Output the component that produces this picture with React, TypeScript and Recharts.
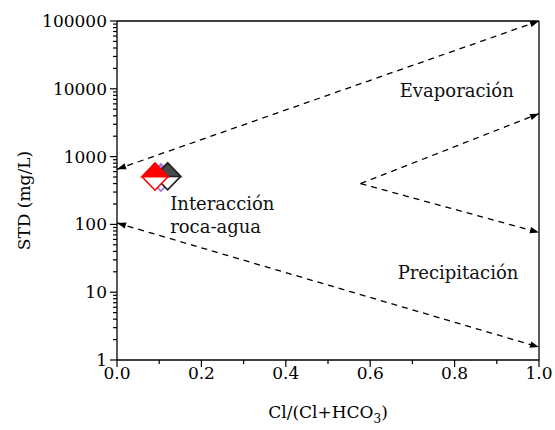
import React from 'react';
import {
  ScatterChart,
  Scatter,
  XAxis,
  YAxis,
  ReferenceLine,
  ReferenceDot,
  Label,
} from 'recharts';

const FONT = '"DejaVu Serif", serif';

// Samples: chloride ratio vs total dissolved solids
const violetSample = [{ ratio: 0.104, tds: 490 }];
const graySample = [{ ratio: 0.12, tds: 510 }];
const redSample = [{ ratio: 0.09, tds: 505 }];

// Gibbs boundary arrows (start -> end)
const upperBoundary = [{ ratio: 0, tds: 650 }, { ratio: 1, tds: 100000 }];
const lowerBoundary = [{ ratio: 0, tds: 105 }, { ratio: 1, tds: 1.55 }];
const wedgeUpper = [{ ratio: 0.577, tds: 400 }, { ratio: 1, tds: 4300 }];
const wedgeLower = [{ ratio: 0.577, tds: 400 }, { ratio: 1, tds: 76 }];

const xMajorTicks = [0, 0.2, 0.4, 0.6, 0.8, 1.0];
const xMinorTicks = [0.1, 0.3, 0.5, 0.7, 0.9];
const yDecades = [1, 10, 100, 1000, 10000, 100000];
const yMinorTicks = yDecades.slice(0, -1).flatMap((d) => [2, 3, 4, 5, 6, 7, 8, 9].map((m) => m * d));

const fieldLabels = [
  { ratio: 0.67, tds: 7600, lines: ['Evaporación'] },
  { ratio: 0.126, tds: 163, lines: ['Interacción', 'roca-agua'] },
  { ratio: 0.665, tds: 15.7, lines: ['Precipitación'] },
];

const arrowPoints = (tx: number, ty: number, fx: number, fy: number) => {
  const a = Math.atan2(ty - fy, tx - fx);
  const len = 9;
  const half = 3.2;
  const bx = tx - len * Math.cos(a);
  const by = ty - len * Math.sin(a);
  const px = -Math.sin(a) * half;
  const py = Math.cos(a) * half;
  return `${tx},${ty} ${bx + px},${by + py} ${bx - px},${by - py}`;
};

const arrowLine = (bothEnds: boolean) => (p: any) => {
  const { x1, y1, x2, y2 } = p;
  return (
    <g>
      <line x1={x1} y1={y1} x2={x2} y2={y2} stroke="#000" strokeWidth={1.3} strokeDasharray="6 5" />
      <polygon points={arrowPoints(x2, y2, x1, y1)} fill="#000" />
      {bothEnds && <polygon points={arrowPoints(x1, y1, x2, y2)} fill="#000" />}
    </g>
  );
};

const halfDiamond = (top: string, edge: string) => (p: any) => {
  const { cx, cy } = p;
  const w = 13;
  const h = 13.5;
  return (
    <g>
      <polygon
        points={`${cx - w},${cy} ${cx},${cy - h} ${cx + w},${cy} ${cx},${cy + h}`}
        fill="#fff"
        stroke={edge}
        strokeWidth={1.6}
      />
      <polygon points={`${cx - w},${cy} ${cx},${cy - h} ${cx + w},${cy}`} fill={top} stroke={edge} strokeWidth={1.6} />
    </g>
  );
};

const YTick = ({ x, y, payload }: any) => {
  const major = yDecades.includes(payload.value);
  return (
    <g>
      <line x1={x} x2={x - (major ? 7 : 4)} y1={y} y2={y} stroke="#000" strokeWidth={1.2} />
      {major && (
        <text x={x - 10} y={y} textAnchor="end" dominantBaseline="central" fontFamily={FONT} fontSize={17} fill="#000">
          {payload.value}
        </text>
      )}
    </g>
  );
};

const XTick = ({ x, y, payload }: any) => {
  const major = xMajorTicks.includes(payload.value);
  return (
    <g>
      <line x1={x} x2={x} y1={y} y2={y + (major ? 7 : 4)} stroke="#000" strokeWidth={1.2} />
      {major && (
        <text x={x} y={y + 19} textAnchor="middle" fontFamily={FONT} fontSize={17} fill="#000">
          {payload.value.toFixed(1)}
        </text>
      )}
    </g>
  );
};

export default function App() {
  return (
    <div style={{ position: 'absolute', left: 0, top: 0, background: '#fff' }}>
      <ScatterChart width={555} height={430} margin={{ top: 21, right: 16, bottom: 0, left: 0 }}>
        <XAxis
          type="number"
          dataKey="ratio"
          domain={[0, 1]}
          ticks={[...xMajorTicks, ...xMinorTicks]}
          interval={0}
          tick={<XTick />}
          tickLine={false}
          tickSize={0}
          tickMargin={0}
          height={70}
          axisLine={{ stroke: '#000', strokeWidth: 1.3 }}
        >
          <Label
            content={({ viewBox }: any) => (
              <text
                x={viewBox.x + viewBox.width / 2}
                y={viewBox.y + 58}
                textAnchor="middle"
                fontFamily={FONT}
                fontSize={17}
                fill="#000"
              >
                Cl/(Cl+HCO
                <tspan fontSize={12} dy={5}>3</tspan>
                <tspan dy={-5}>)</tspan>
              </text>
            )}
          />
        </XAxis>
        <YAxis
          type="number"
          dataKey="tds"
          scale="log"
          domain={[1, 100000]}
          allowDataOverflow
          ticks={[...yDecades, ...yMinorTicks]}
          interval={0}
          tick={<YTick />}
          tickLine={false}
          tickSize={0}
          tickMargin={0}
          width={117}
          axisLine={{ stroke: '#000', strokeWidth: 1.3 }}
        >
          <Label
            content={({ viewBox }: any) => {
              const cx = 30;
              const cy = viewBox.y + viewBox.height / 2 + 10;
              return (
                <text
                  x={cx}
                  y={cy}
                  transform={`rotate(-90, ${cx}, ${cy})`}
                  textAnchor="middle"
                  fontFamily={FONT}
                  fontSize={17}
                  fill="#000"
                >
                  STD (mg/L)
                </text>
              );
            }}
          />
        </YAxis>

        <ReferenceLine y={100000} stroke="#000" strokeWidth={1.3} />
        <ReferenceLine x={1} stroke="#000" strokeWidth={1.3} />

        <ReferenceLine
          segment={upperBoundary.map((d) => ({ x: d.ratio, y: d.tds }))}
          ifOverflow="visible"
          shape={arrowLine(true)}
        />
        <ReferenceLine
          segment={lowerBoundary.map((d) => ({ x: d.ratio, y: d.tds }))}
          ifOverflow="visible"
          shape={arrowLine(true)}
        />
        <ReferenceLine
          segment={wedgeUpper.map((d) => ({ x: d.ratio, y: d.tds }))}
          ifOverflow="visible"
          shape={arrowLine(false)}
        />
        <ReferenceLine
          segment={wedgeLower.map((d) => ({ x: d.ratio, y: d.tds }))}
          ifOverflow="visible"
          shape={arrowLine(false)}
        />

        {fieldLabels.map((f) => (
          <ReferenceDot
            key={f.lines[0]}
            x={f.ratio}
            y={f.tds}
            r={0}
            ifOverflow="visible"
            shape={(p: any) => (
              <text x={p.cx} y={p.cy} fontFamily={FONT} fontSize={18} fill="#111">
                {f.lines.map((t, i) => (
                  <tspan key={t} x={p.cx} dy={i === 0 ? 0 : 23}>
                    {t}
                  </tspan>
                ))}
              </text>
            )}
          />
        ))}

        <Scatter data={violetSample} shape={halfDiamond('#d08cff', '#a070e0')} isAnimationActive={false} />
        <Scatter data={graySample} shape={halfDiamond('#4a4a4a', '#222')} isAnimationActive={false} />
        <Scatter data={redSample} shape={halfDiamond('#ff0000', '#ff0000')} isAnimationActive={false} />
      </ScatterChart>
    </div>
  );
}
